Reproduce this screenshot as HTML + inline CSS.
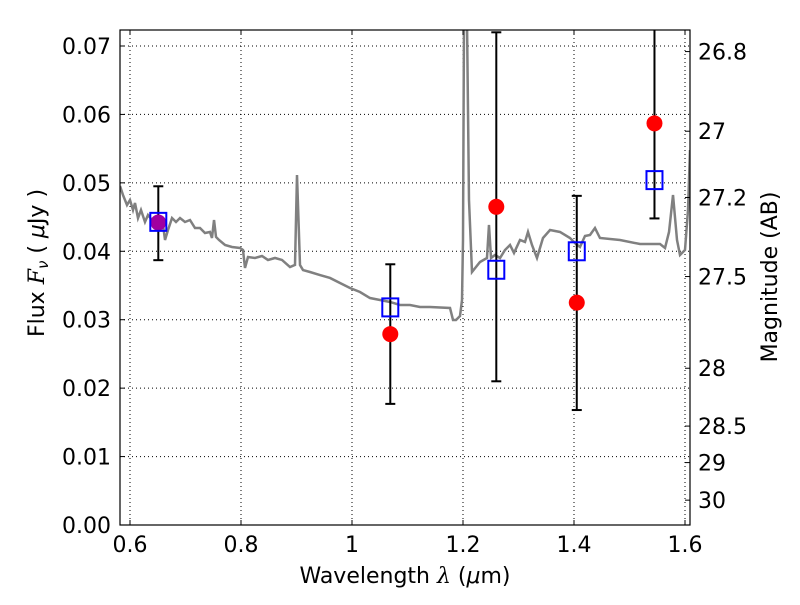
<!DOCTYPE html>
<html><head><meta charset="utf-8"><style>
body{margin:0;background:#fff;}
text{font-family:"DejaVu Sans","Liberation Sans",sans-serif;}
</style></head><body>
<svg id="c" width="800" height="600" xmlns="http://www.w3.org/2000/svg"></svg>
<script>
const specPx=[[120,186],[123,195],[127,205],[130,200],[133,210],[135,203],[138,218],[141,210],[145,222],[148,215],[152,220],[156,228],[160,222],[163,225],[165,240],[168,230],[172,218],[176,222],[180,218],[185,222],[190,220],[195,228],[200,228],[205,233],[210,232],[212,238],[214,220],[216,237],[219,240],[225,245],[232,247],[240,248],[243,250],[245,268],[248,257],[255,258],[262,256],[268,260],[275,258],[282,260],[290,267],[295,265],[297,175],[300,265],[303,270],[310,272],[320,275],[330,278],[340,283],[350,288],[360,292],[370,298],[380,300],[390,302],[400,305],[410,305],[420,307],[430,307],[450,308],[453,320],[456,320],[460,316],[462,300],[463,240],[464,20],[467,20],[469,200],[472,272],[480,262],[487,258],[489,225],[491,258],[495,255],[500,258],[505,250],[510,245],[514,253],[520,240],[525,242],[528,232],[532,245],[537,258],[543,238],[550,230],[560,232],[570,238],[576,244],[580,247],[585,236],[590,235],[595,228],[600,238],[620,240],[640,244],[650,244],[660,244],[665,248],[669,232],[673,195],[677,240],[680,255],[685,250],[688,210],[690,150]];
const specWave=specPx.map(p=>+(0.6+(p[0]-130)/555).toFixed(4));
const specFlux=specPx.map(p=>+((525-p[1])/6843).toFixed(5));
const obsWave=[0.651,1.069,1.260,1.405,1.545];
const obsFlux=[0.0442,0.0279,0.0465,0.0325,0.0587];
const modelFlux=[0.0443,0.0318,0.0373,0.0400,0.0504];
const errLo=[0.0387,0.0177,0.0210,0.0168,0.0448];
const errHi=[0.0495,0.0381,0.0720,0.0481,0.0760];
const xTicks=[0.6,0.8,1.0,1.2,1.4,1.6];
const xTickLabels=["0.6","0.8","1","1.2","1.4","1.6"];
const yTicks=[0,0.01,0.02,0.03,0.04,0.05,0.06,0.07];
const magTicks=[26.8,27,27.2,27.5,28,28.5,29,30];

const L=120,R=690,T=30,B=525;
const X=v=>130+(v-0.6)*555;
const Y=v=>525-v*6843;
const svg=document.getElementById('c');
const NS='http://www.w3.org/2000/svg';
function mk(tag,attrs,parent){const e=document.createElementNS(NS,tag);for(const k in attrs)e.setAttribute(k,attrs[k]);(parent||svg).appendChild(e);return e;}
const defs=mk('defs',{});const cp=mk('clipPath',{id:'clip'},defs);mk('rect',{x:L,y:T,width:R-L,height:B-T},cp);
const grid=mk('g',{stroke:'#000','stroke-width':1,'stroke-dasharray':'1,3'});

xTicks.forEach(v=>mk('line',{x1:X(v),x2:X(v),y1:T,y2:B},grid));
yTicks.forEach(v=>mk('line',{x1:L,x2:R,y1:Y(v),y2:Y(v)},grid));
const plot=mk('g',{'clip-path':'url(#clip)'});
const sp=mk('polyline',{points:specWave.map((w,i)=>X(w)+','+Y(specFlux[i])).join(' '),fill:'none',stroke:'#808080','stroke-width':2.5},plot);

obsWave.forEach((w,i)=>{
 const g=mk('g',{stroke:'#000','stroke-width':2},plot);
 
 mk('line',{x1:X(w),x2:X(w),y1:Y(errLo[i]),y2:Y(errHi[i])},g);
 mk('line',{x1:X(w)-5,x2:X(w)+5,y1:Y(errLo[i]),y2:Y(errLo[i])},g);
 mk('line',{x1:X(w)-5,x2:X(w)+5,y1:Y(errHi[i]),y2:Y(errHi[i])},g);
});
obsWave.forEach((w,i)=>{
 const c=mk('circle',{cx:X(w),cy:Y(obsFlux[i]),r:8,fill:i==0?'#a000a0':'#ff0000'},plot);
 
 const s=mk('rect',{x:X(w)-8,y:Y(modelFlux[i])-9,width:16,height:18,fill:'none',stroke:'#0000ff','stroke-width':2},plot);
 
});
const fr=mk('rect',{x:L,y:T,width:R-L,height:B-T,fill:'none',stroke:'#000','stroke-width':1.2});

xTicks.forEach((v,i)=>{
 mk('line',{x1:X(v),x2:X(v),y1:B,y2:B-5,stroke:'#000'});mk('line',{x1:X(v),x2:X(v),y1:T,y2:T+5,stroke:'#000'});
 const t=mk('text',{x:X(v),y:B+27,'text-anchor':'middle','font-size':22});t.textContent=xTickLabels[i];
 
});
yTicks.forEach(v=>{
 mk('line',{x1:L,x2:L+5,y1:Y(v),y2:Y(v),stroke:'#000'});
 const t=mk('text',{x:L-9,y:Y(v)+8,'text-anchor':'end','font-size':22});t.textContent=v.toFixed(2);
 
});
magTicks.forEach(m=>{
 const y=Y(Math.pow(10,(23.9-m)/2.5));
 mk('line',{x1:R,x2:R-5,y1:y,y2:y,stroke:'#000'});
 const t=mk('text',{x:R+8,y:y+8,'font-size':22});t.textContent=String(m);
 
});
</script>
<svg width="800" height="600" style="position:absolute;left:0;top:0" xmlns="http://www.w3.org/2000/svg">
<text x="405" y="583" text-anchor="middle" font-size="22" font-family="DejaVu Sans,sans-serif">Wavelength  <tspan font-style="italic" font-family="DejaVu Serif,serif">λ</tspan> (<tspan font-style="italic">μ</tspan>m)</text>
<text transform="translate(44,263) rotate(-90)" text-anchor="middle" font-size="22" font-family="DejaVu Sans,sans-serif">Flux  <tspan font-style="italic" font-family="DejaVu Serif,serif">F</tspan><tspan font-style="italic" font-size="15" dy="4">ν</tspan><tspan dy="-4">  ( </tspan><tspan font-style="italic">μ</tspan>Jy )</text>
<text transform="translate(777,277) rotate(-90)" text-anchor="middle" font-size="22" font-family="DejaVu Sans,sans-serif">Magnitude (AB)</text>
</svg>
</body></html>
